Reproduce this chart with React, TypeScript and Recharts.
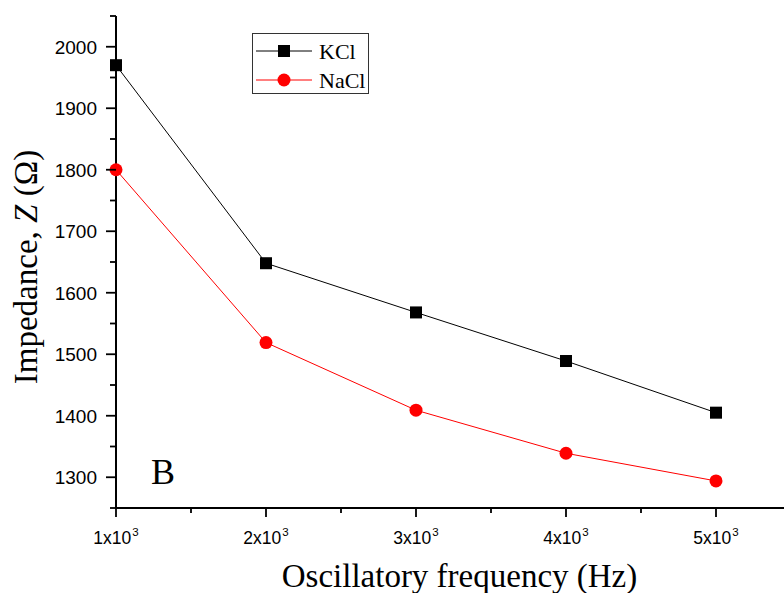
import { LineChart, Line, XAxis, YAxis, Customized } from "recharts";

// oscillatory frequency (Hz)
const frequencies = [1000, 2000, 3000, 4000, 5000];
const kclImpedance = [1970, 1648, 1568, 1489, 1405];
const naclImpedance = [1800, 1519, 1409, 1339, 1294];

const xTicks = [1000, 1500, 2000, 2500, 3000, 3500, 4000, 4500, 5000, 5500];
const yTicks = [1250, 1300, 1350, 1400, 1450, 1500, 1550, 1600, 1650, 1700, 1750, 1800, 1850, 1900, 1950, 2000, 2050];

const data = frequencies.map((f, i) => ({ f, kcl: kclImpedance[i], nacl: naclImpedance[i] }));

const sans = "'Liberation Sans', Arial, sans-serif";
const serif = "'Liberation Serif', 'Times New Roman', serif";

const XTick = (props: any) => {
  const { x, y, payload } = props;
  const v = payload.value;
  const major = v % 1000 === 0;
  return (
    <g>
      <line x1={x} x2={x} y1={y} y2={y + (major ? 9 : 5)} stroke="#000" strokeWidth={1.8} />
      {major && (
        <text x={x} y={y + 36} textAnchor="middle" fontFamily={sans} fontSize={17.5} fill="#000">
          {v / 1000}x10<tspan dy={-8} dx={1} fontSize={11.5}>3</tspan>
        </text>
      )}
    </g>
  );
};

const YTick = (props: any) => {
  const { x, y, payload } = props;
  const v = payload.value;
  const major = v % 100 === 0;
  return (
    <g>
      <line x1={x} x2={x - (major ? 10 : 6)} y1={y} y2={y} stroke="#000" strokeWidth={1.8} />
      {major && (
        <text x={x - 19} y={y + 6.8} textAnchor="end" fontFamily={sans} fontSize={19} fill="#000">
          {v}
        </text>
      )}
    </g>
  );
};

const XTitle = (props: any) => {
  const { x, y, width } = props.viewBox;
  return (
    <text x={x + width / 2 + 6} y={y + 79} textAnchor="middle" fontFamily={serif} fontSize={33} fill="#000">
      Oscillatory frequency (Hz)
    </text>
  );
};

const YTitle = (props: any) => {
  const { y, height } = props.viewBox;
  const cx = 37;
  const cy = y + height / 2 + 5;
  return (
    <text x={cx} y={cy} transform={`rotate(-90 ${cx} ${cy})`} textAnchor="middle" fontFamily={serif} fontSize={33} fill="#000">
      Impedance, <tspan fontStyle="italic">Z</tspan> (Ω)
    </text>
  );
};

const LegendBox = () => (
  <g transform="translate(252 33)">
    <rect x={0.5} y={0.5} width={116} height={60} fill="#fff" stroke="#333" strokeWidth={1} />
    <line x1={4} x2={60} y1={18} y2={18} stroke="#000" strokeWidth={1} />
    <rect x={26} y={12} width={12} height={12} fill="#000" />
    <text x={67} y={26} fontFamily={serif} fontSize={22} fill="#000">KCl</text>
    <line x1={4} x2={60} y1={47} y2={47} stroke="#ff0000" strokeWidth={1} />
    <circle cx={32} cy={47} r={6.5} fill="#ff0000" />
    <text x={67} y={55} fontFamily={serif} fontSize={22} fill="#000">NaCl</text>
  </g>
);

const SquareDot = (props: any) => {
  const { cx, cy } = props;
  return <rect x={cx - 6} y={cy - 6} width={12} height={12} fill="#000" />;
};

const PanelMark = () => (
  <text x={151} y={484} fontFamily={serif} fontSize={36} fill="#000">B</text>
);

export default function App() {
  return (
    <div style={{ position: "absolute", left: 0, top: 0, width: 784, height: 593, overflow: "hidden", background: "#fff" }}>
      <LineChart width={800} height={593} data={data} margin={{ top: 16, right: 9, bottom: 0, left: 0 }}>
        <XAxis
          dataKey="f"
          type="number"
          domain={[1000, 5500]}
          ticks={xTicks}
          interval={0}
          height={85}
          tickSize={0}
          tickMargin={0}
          tickLine={false}
          tick={<XTick />}
          axisLine={{ stroke: "#000", strokeWidth: 2 }}
          label={{ content: XTitle }}
        />
        <XAxis
          xAxisId="top"
          orientation="top"
          dataKey="f"
          type="number"
          domain={[1000, 5500]}
          height={0}
          tick={false}
          tickLine={false}
          axisLine={{ stroke: "#000", strokeWidth: 2 }}
        />
        <YAxis
          type="number"
          domain={[1250, 2050]}
          ticks={yTicks}
          interval={0}
          width={116}
          tickSize={0}
          tickMargin={0}
          tickLine={false}
          tick={<YTick />}
          axisLine={{ stroke: "#000", strokeWidth: 2 }}
          label={{ content: YTitle }}
        />
        <Line
          dataKey="kcl"
          stroke="#000"
          strokeWidth={1}
          dot={<SquareDot />}
          activeDot={false}
          isAnimationActive={false}
        />
        <Line
          dataKey="nacl"
          stroke="#ff0000"
          strokeWidth={1}
          dot={{ r: 6.5, fill: "#ff0000", stroke: "none" }}
          activeDot={false}
          isAnimationActive={false}
        />
        <Customized component={LegendBox} />
        <Customized component={PanelMark} />
      </LineChart>
    </div>
  );
}
